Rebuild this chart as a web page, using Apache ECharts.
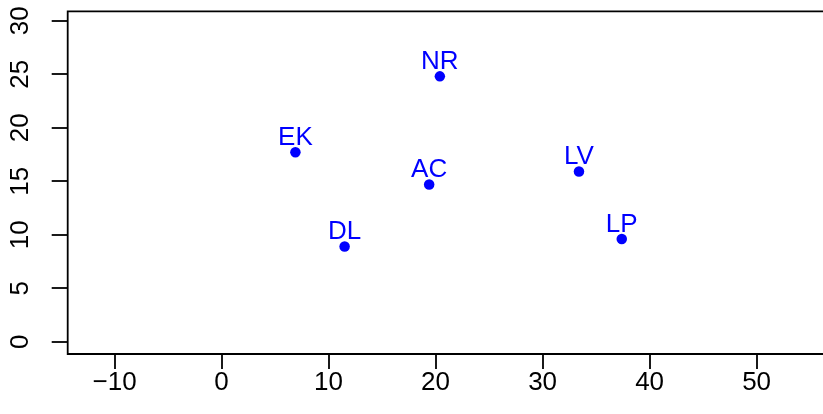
<!DOCTYPE html>
<html>
<head>
<meta charset="utf-8">
<script src="https://cdn.jsdelivr.net/npm/echarts@6/dist/echarts.min.js"></script>
<style>
html,body{margin:0;padding:0;background:#fff;}
#chart{width:823px;height:414px;}
</style>
</head>
<body>
<div id="chart"></div>
<script>
// Data
var names = ['EK', 'NR', 'LV', 'LP', 'DL', 'AC'];
var xVals = [6.9, 20.4, 33.4, 37.4, 11.5, 19.4];
var yVals = [17.7, 24.8, 15.9, 9.6, 8.9, 14.7];
var xTicks = [-10, 0, 10, 20, 30, 40, 50];
var yTicks = [0, 5, 10, 15, 20, 25, 30];

var points = names.map(function (n, i) { return [xVals[i], yVals[i], n]; });
var FONT = 'Liberation Sans, Arial, sans-serif';
function fmt(v) { return String(v).replace('-', '\u2212'); }

var chart = echarts.init(document.getElementById('chart'), null, { renderer: 'canvas' });
chart.setOption({
  animation: false,
  backgroundColor: '#ffffff',
  grid: {
    left: 67.7, top: 11.3, width: 774.5, height: 342.7,
    show: true, borderColor: '#000', borderWidth: 1.8, backgroundColor: 'transparent',
    containLabel: false, outerBoundsMode: 'none'
  },
  xAxis: {
    type: 'value', min: -14.38, max: 58,
    axisLine: { show: false, onZero: false },
    splitLine: { show: false },
    axisTick: { show: true, length: 15, lineStyle: { color: '#000', width: 1.8 }, customValues: xTicks },
    axisLabel: { margin: 16, fontSize: 26, fontFamily: FONT, color: '#000', formatter: fmt, customValues: xTicks }
  },
  yAxis: {
    type: 'value', min: -1.15, max: 30.88,
    axisLine: { show: false, onZero: false },
    splitLine: { show: false },
    axisTick: { show: true, length: 16, lineStyle: { color: '#000', width: 1.8 }, customValues: yTicks },
    axisLabel: { margin: 34, fontSize: 26, rotate: 90, fontFamily: FONT, color: '#000', formatter: fmt, customValues: yTicks }
  },
  series: [{
    type: 'scatter',
    data: points,
    symbol: 'circle',
    symbolSize: 10.5,
    itemStyle: { color: '#0000ff', opacity: 1 },
    label: {
      show: true,
      position: 'inside',
      offset: [0, -14.5],
      formatter: function (p) { return p.data[2]; },
      color: '#0000ff',
      fontSize: 26,
      fontFamily: FONT
    }
  }]
});
</script>
</body>
</html>
